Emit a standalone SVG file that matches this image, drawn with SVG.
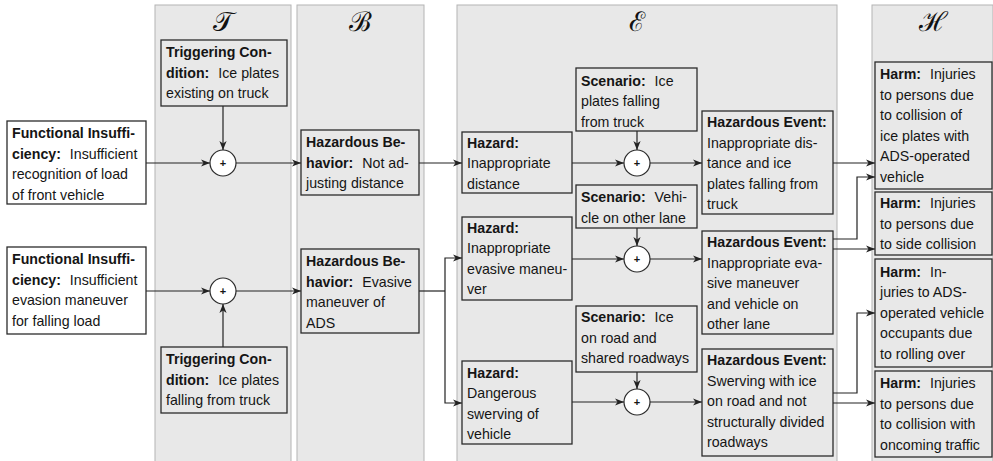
<svg xmlns="http://www.w3.org/2000/svg" width="993" height="461" viewBox="0 0 993 461">
  <style>
    .band { fill: #e8e8e8; stroke: #b4b4b4; stroke-width: 1; }
    .box { fill: #e8e8e8; stroke: #2b2b2b; stroke-width: 1.3; }
    .box.plain { fill: #ffffff; }
    .op { fill: #ffffff; stroke: #2b2b2b; stroke-width: 1.2; }
    text { font-family: "Liberation Sans", Arial, sans-serif; font-size: 14.2px; fill: #151515; }
    .b { font-weight: bold; }
    .plus { font-size: 11px; font-weight: bold; text-anchor: middle; }
    .hdr { font-family: "DejaVu Serif", "Liberation Serif", serif; font-size: 27px; text-anchor: middle; fill: #111111; }
    .wire { fill: none; stroke: #222222; stroke-width: 1.2; }
    .arr { marker-end: url(#tip); }
  </style>
  <defs>
    <marker id="tip" viewBox="-9 -4 10 8" refX="0" refY="0" markerWidth="10" markerHeight="8" markerUnits="userSpaceOnUse" orient="auto">
      <path d="M0,0 L-9,-3.6 L-6.5,0 L-9,3.6 Z" fill="#222222"/>
    </marker>
  </defs>

  <!-- column bands -->
  <g id="columns">
    <rect class="band" x="155" y="5" width="136" height="470"/>
    <rect class="band" x="297" y="5" width="127" height="470"/>
    <rect class="band" x="457" y="5" width="380" height="470"/>
    <rect class="band" x="872" y="5" width="121" height="470"/>
    <text class="hdr" x="223" y="31">𝒯</text>
    <text class="hdr" x="360" y="31">ℬ</text>
    <text class="hdr" x="637" y="31">ℰ</text>
    <text class="hdr" x="933" y="31">ℋ</text>
  </g>

  <!-- connectors -->
  <g id="connectors">
    <path class="wire arr" d="M146,163 H210"/>
    <path class="wire arr" d="M223,106 V150"/>
    <path class="wire arr" d="M236,163 H301"/>
    <path class="wire arr" d="M419,163 H462"/>
    <path class="wire arr" d="M572,163 H624"/>
    <path class="wire arr" d="M637,131 V150"/>
    <path class="wire arr" d="M650,163 H702"/>
    <path class="wire arr" d="M146,291 H210"/>
    <path class="wire arr" d="M223,347 V304"/>
    <path class="wire arr" d="M236,291 H301"/>
    <path class="wire" d="M419,291 H445"/>
    <path class="wire arr" d="M445,291 V258 H462"/>
    <path class="wire arr" d="M445,291 V403 H462"/>
    <path class="wire arr" d="M572,259 H624"/>
    <path class="wire arr" d="M637,228 V246"/>
    <path class="wire arr" d="M650,259 H702"/>
    <path class="wire arr" d="M572,402 H624"/>
    <path class="wire arr" d="M637,372 V389"/>
    <path class="wire arr" d="M650,402 H702"/>
    <path class="wire arr" d="M833,163 H875"/>
    <path class="wire arr" d="M833,239 H857 V177 H875"/>
    <path class="wire arr" d="M833,249 H875"/>
    <path class="wire arr" d="M833,393 H857 V313 H875"/>
    <path class="wire arr" d="M833,403 H875"/>
  </g>

  <!-- combination operators -->
  <g id="op-t1"><circle class="op" cx="223" cy="163" r="13"/><text class="plus" x="223" y="167">+</text></g>
  <g id="op-t2"><circle class="op" cx="223" cy="291" r="13"/><text class="plus" x="223" y="295">+</text></g>
  <g id="op-e1"><circle class="op" cx="637" cy="163" r="13"/><text class="plus" x="637" y="167">+</text></g>
  <g id="op-e2"><circle class="op" cx="637" cy="259" r="13"/><text class="plus" x="637" y="263">+</text></g>
  <g id="op-e3"><circle class="op" cx="637" cy="402" r="13"/><text class="plus" x="637" y="406">+</text></g>

  <!-- functional insufficiencies -->
  <g id="fi1">
    <rect class="box plain" x="7" y="121" width="139" height="83"/>
    <text x="12" y="138"><tspan class="b">Functional Insuffi-</tspan></text>
    <text x="12" y="158.6"><tspan class="b">ciency:</tspan><tspan dx="5"> Insufficient</tspan></text>
    <text x="12" y="179.2">recognition of load</text>
    <text x="12" y="199.8">of front vehicle</text>
  </g>
  <g id="fi2">
    <rect class="box plain" x="7" y="247" width="139" height="87"/>
    <text x="12" y="264"><tspan class="b">Functional Insuffi-</tspan></text>
    <text x="12" y="284.6"><tspan class="b">ciency:</tspan><tspan dx="5"> Insufficient</tspan></text>
    <text x="12" y="305.2">evasion maneuver</text>
    <text x="12" y="325.8">for falling load</text>
  </g>

  <!-- triggering conditions -->
  <g id="tc1">
    <rect class="box" x="161" y="40" width="126" height="66"/>
    <text x="166" y="57"><tspan class="b">Triggering Con-</tspan></text>
    <text x="166" y="77.6"><tspan class="b">dition:</tspan><tspan dx="5"> Ice plates</tspan></text>
    <text x="166" y="98.2">existing on truck</text>
  </g>
  <g id="tc2">
    <rect class="box" x="161" y="347" width="126" height="66"/>
    <text x="166" y="364"><tspan class="b">Triggering Con-</tspan></text>
    <text x="166" y="384.6"><tspan class="b">dition:</tspan><tspan dx="5"> Ice plates</tspan></text>
    <text x="166" y="405.2">falling from truck</text>
  </g>

  <!-- hazardous behaviors -->
  <g id="hb1">
    <rect class="box" x="301" y="130" width="118" height="65"/>
    <text x="306" y="147"><tspan class="b">Hazardous Be-</tspan></text>
    <text x="306" y="167.6"><tspan class="b">havior:</tspan><tspan dx="5"> Not ad-</tspan></text>
    <text x="306" y="188.2">justing distance</text>
  </g>
  <g id="hb2">
    <rect class="box" x="301" y="249" width="118" height="84"/>
    <text x="306" y="266"><tspan class="b">Hazardous Be-</tspan></text>
    <text x="306" y="286.6"><tspan class="b">havior:</tspan><tspan dx="5"> Evasive</tspan></text>
    <text x="306" y="307.2">maneuver of</text>
    <text x="306" y="327.8">ADS</text>
  </g>

  <!-- hazards -->
  <g id="hz1">
    <rect class="box" x="462" y="132" width="110" height="61"/>
    <text x="467" y="147.5" class="b">Hazard:</text>
    <text x="467" y="168.1">Inappropriate</text>
    <text x="467" y="188.7">distance</text>
  </g>
  <g id="hz2">
    <rect class="box" x="462" y="217" width="110" height="83"/>
    <text x="467" y="232.5" class="b">Hazard:</text>
    <text x="467" y="253.1">Inappropriate</text>
    <text x="467" y="273.7">evasive maneu-</text>
    <text x="467" y="294.3">ver</text>
  </g>
  <g id="hz3">
    <rect class="box" x="462" y="361" width="110" height="83"/>
    <text x="467" y="377.5" class="b">Hazard:</text>
    <text x="467" y="398.1">Dangerous</text>
    <text x="467" y="418.7">swerving of</text>
    <text x="467" y="439.3">vehicle</text>
  </g>

  <!-- scenarios -->
  <g id="sc1">
    <rect class="box" x="576" y="68" width="121" height="63"/>
    <text x="581" y="85.5"><tspan class="b">Scenario:</tspan><tspan dx="5"> Ice</tspan></text>
    <text x="581" y="106.1">plates falling</text>
    <text x="581" y="126.7">from truck</text>
  </g>
  <g id="sc2">
    <rect class="box" x="576" y="185" width="121" height="43"/>
    <text x="581" y="202"><tspan class="b">Scenario:</tspan><tspan dx="5"> Vehi-</tspan></text>
    <text x="581" y="222.6">cle on other lane</text>
  </g>
  <g id="sc3">
    <rect class="box" x="576" y="306" width="121" height="66"/>
    <text x="581" y="322"><tspan class="b">Scenario:</tspan><tspan dx="5"> Ice</tspan></text>
    <text x="581" y="342.6">on road and</text>
    <text x="581" y="363.2">shared roadways</text>
  </g>

  <!-- hazardous events -->
  <g id="he1">
    <rect class="box" x="702" y="111" width="131" height="103"/>
    <text x="707" y="127" class="b">Hazardous Event:</text>
    <text x="707" y="147.6">Inappropriate dis-</text>
    <text x="707" y="168.2">tance and ice</text>
    <text x="707" y="188.8">plates falling from</text>
    <text x="707" y="209.4">truck</text>
  </g>
  <g id="he2">
    <rect class="box" x="702" y="231" width="131" height="103"/>
    <text x="707" y="247" class="b">Hazardous Event:</text>
    <text x="707" y="267.6">Inappropriate eva-</text>
    <text x="707" y="288.2">sive maneuver</text>
    <text x="707" y="308.8">and vehicle on</text>
    <text x="707" y="329.4">other lane</text>
  </g>
  <g id="he3">
    <rect class="box" x="702" y="349" width="131" height="107"/>
    <text x="707" y="365" class="b">Hazardous Event:</text>
    <text x="707" y="385.6">Swerving with ice</text>
    <text x="707" y="406.2">on road and not</text>
    <text x="707" y="426.8">structurally divided</text>
    <text x="707" y="447.4">roadways</text>
  </g>

  <!-- harms -->
  <g id="h1">
    <rect class="box" x="875" y="62" width="117" height="127"/>
    <text x="880" y="79"><tspan class="b">Harm:</tspan><tspan dx="5"> Injuries</tspan></text>
    <text x="880" y="99.6">to persons due</text>
    <text x="880" y="120.2">to collision of</text>
    <text x="880" y="140.8">ice plates with</text>
    <text x="880" y="161.4">ADS-operated</text>
    <text x="880" y="182">vehicle</text>
  </g>
  <g id="h2">
    <rect class="box" x="875" y="192" width="117" height="63"/>
    <text x="880" y="208"><tspan class="b">Harm:</tspan><tspan dx="5"> Injuries</tspan></text>
    <text x="880" y="228.6">to persons due</text>
    <text x="880" y="249.2">to side collision</text>
  </g>
  <g id="h3">
    <rect class="box" x="875" y="259" width="117" height="108"/>
    <text x="880" y="276.5"><tspan class="b">Harm:</tspan><tspan dx="5"> In-</tspan></text>
    <text x="880" y="297.1">juries to ADS-</text>
    <text x="880" y="317.7">operated vehicle</text>
    <text x="880" y="338.3">occupants due</text>
    <text x="880" y="358.9">to rolling over</text>
  </g>
  <g id="h4">
    <rect class="box" x="875" y="371" width="117" height="86"/>
    <text x="880" y="388"><tspan class="b">Harm:</tspan><tspan dx="5"> Injuries</tspan></text>
    <text x="880" y="408.6">to persons due</text>
    <text x="880" y="429.2">to collision with</text>
    <text x="880" y="449.8">oncoming traffic</text>
  </g>
</svg>
